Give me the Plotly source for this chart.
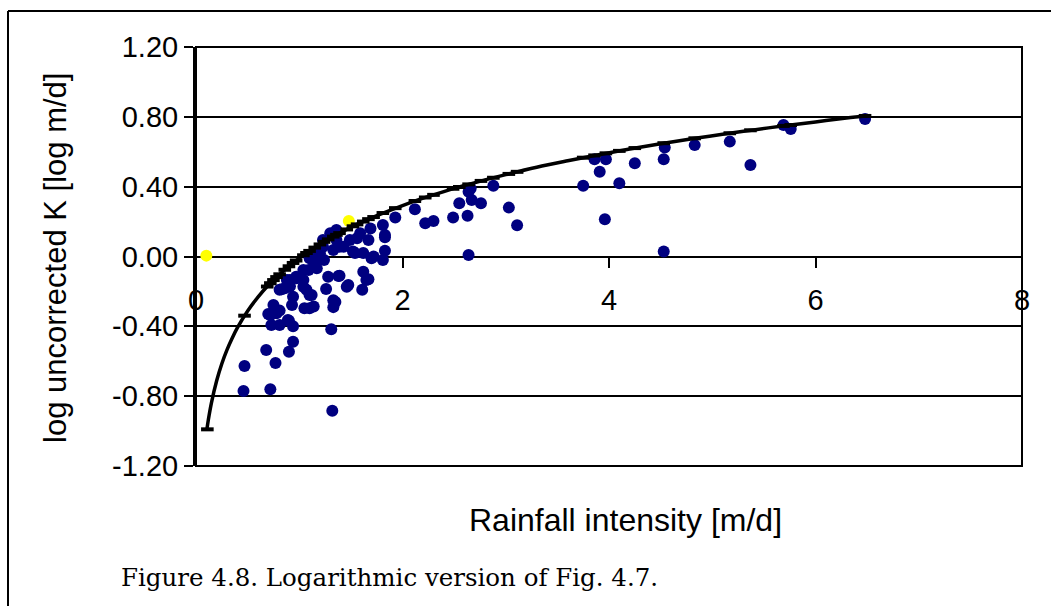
import plotly.graph_objects as go

# ---- data ----
obs_x = [3.86, 3.97, 3.91, 3.75, 4.10, 3.96, 4.25, 4.53, 4.54, 4.53, 4.83, 5.17, 5.37, 5.69, 5.76, 6.48,
         2.12, 2.22, 2.30, 2.49, 2.55, 2.63, 2.64, 2.67, 2.66, 2.76, 2.64, 2.88, 3.03, 3.11,
         1.93, 1.81, 1.83, 1.83, 1.81, 1.69, 1.67, 1.70, 1.62, 1.54, 1.62, 1.67, 1.61, 1.46, 1.39,
         1.35, 1.33, 1.31, 1.32, 1.26, 1.28, 1.10, 1.05, 0.93, 0.89, 0.94, 0.94, 0.90, 0.75, 0.72,
         0.78, 0.73, 0.81, 0.68, 0.77, 0.72, 0.47, 0.46, 0.81, 0.91, 0.975, 1.04, 1.07, 1.12, 1.09,
         1.15, 1.24, 1.39, 1.52, 1.56, 1.17, 1.23, 1.30, 1.36, 1.49, 1.59, 0.88, 1.04,
         1.83, 1.72, 1.65, 1.475, 1.38, 1.33, 1.17, 0.97, 0.86, 0.94, 1.10, 1.14, 1.20, 1.33, 1.43,
         1.36, 1.23, 1.10, 1.04, 0.91, 0.81, 0.83, 0.70, 0.90]
obs_y = [0.557, 0.557, 0.486, 0.405, 0.419, 0.213, 0.534, 0.557, 0.625, 0.028, 0.638, 0.658, 0.524, 0.753, 0.73, 0.787,
         0.27, 0.19, 0.203, 0.224, 0.305, 0.234, 0.371, 0.324, 0.39, 0.305, 0.009, 0.405, 0.28, 0.179,
         0.224, 0.18, 0.123, 0.033, -0.02, 0.16, 0.094, -0.01, 0.02, 0.02, -0.087, -0.13, -0.19, -0.173, -0.11,
         -0.26, -0.29, -0.417, -0.883, -0.186, -0.116, -0.297, -0.297, -0.278, -0.364, -0.40, -0.488, -0.545, -0.278, -0.335,
         -0.325, -0.392, -0.392, -0.535, -0.61, -0.76, -0.627, -0.77, -0.19, -0.17, -0.125, -0.135, -0.19, -0.22, -0.077,
         -0.04, -0.02, 0.056, 0.028, 0.104, 0.018, 0.094, 0.133, 0.152, 0.094, 0.133, -0.135, -0.173,
         0.11, 0.0, -0.135, -0.163, -0.112, -0.25, -0.068, -0.116, -0.182, -0.23, -0.22, -0.287, 0.018, 0.037, 0.056,
         0.094, 0.056, -0.01, -0.077, -0.135, -0.31, -0.188, -0.33, -0.368]

other_x = [0.10, 1.48]
other_y = [0.005, 0.203]

# smooth fitted line
curve_x = [0.105, 0.12, 0.15, 0.2, 0.25, 0.3, 0.35, 0.4, 0.5, 0.6, 0.7, 0.8, 0.9, 1.0, 1.1, 1.2,
           1.3, 1.4, 1.5, 1.6, 1.7, 1.8, 2.0, 2.2, 2.4, 2.6, 2.8, 3.0, 3.3, 3.6, 3.9, 4.2,
           4.5, 4.8, 5.1, 5.4, 5.7, 6.0, 6.3, 6.5]
curve_y = [-0.993, -0.934, -0.837, -0.712, -0.614, -0.535, -0.468, -0.409, -0.312, -0.233, -0.165,
           -0.107, -0.056, -0.010, 0.032, 0.069, 0.104, 0.137, 0.167, 0.195, 0.221, 0.246, 0.292,
           0.334, 0.372, 0.407, 0.439, 0.469, 0.511, 0.548, 0.583, 0.616, 0.646, 0.674, 0.700,
           0.725, 0.749, 0.771, 0.793, 0.806]

# dash markers drawn on the fitted line
fit_mark_x = [0.11, 0.47, 0.69, 0.72, 0.75, 0.78, 0.81, 0.86, 0.90, 0.94, 0.97, 1.04, 1.07, 1.10,
              1.15, 1.20, 1.24, 1.28, 1.33, 1.36, 1.39, 1.46, 1.52, 1.56, 1.62, 1.67, 1.72, 1.81,
              1.93, 2.12, 2.22, 2.30, 2.49, 2.55, 2.64, 2.76, 2.88, 3.03, 3.11, 3.75, 3.86, 3.97,
              4.10, 4.25, 4.53, 4.83, 5.17, 5.37, 5.69, 5.76, 6.48]
fit_mark_y = [-0.99, -0.339, -0.172, -0.153, -0.135, -0.118, -0.102, -0.076, -0.056, -0.037, -0.023,
              0.007, 0.020, 0.032, 0.051, 0.069, 0.084, 0.098, 0.114, 0.124, 0.134, 0.155, 0.173,
              0.184, 0.200, 0.214, 0.226, 0.249, 0.277, 0.318, 0.338, 0.353, 0.388, 0.398, 0.413,
              0.433, 0.451, 0.473, 0.485, 0.566, 0.579, 0.591, 0.605, 0.621, 0.649, 0.677, 0.706,
              0.723, 0.748, 0.753, 0.805]

y_ticks = [-1.2, -0.8, -0.4, 0.0, 0.4, 0.8, 1.2]
y_tick_labels = ["-1.20", "-0.80", "-0.40", "0.00", "0.40", "0.80", "1.20"]
x_ticks = [0, 2, 4, 6, 8]
x_tick_labels = ["0", "2", "4", "6", "8"]

# ---- layout geometry (pixels) ----
W, H = 1051, 606
L, R, T, B = 196, 1022, 47, 466
pw, ph = R - L, B - T


def px(x):
    return (x - L) / pw


def py(y):
    return (B - y) / ph


fig = go.Figure()
fig.add_trace(go.Scatter(x=obs_x, y=obs_y, mode="markers",
                         marker=dict(color="#000080", size=12, line=dict(width=0)),
                         showlegend=False))
fig.add_trace(go.Scatter(x=other_x, y=other_y, mode="markers",
                         marker=dict(color="#FFFF00", size=12, line=dict(width=0)),
                         showlegend=False))
fig.add_trace(go.Scatter(x=curve_x, y=curve_y, mode="lines", line_shape="spline",
                         line=dict(color="black", width=3.5), showlegend=False))
fig.add_trace(go.Scatter(x=fit_mark_x, y=fit_mark_y, mode="markers",
                         marker=dict(symbol="line-ew", size=9, line=dict(color="black", width=4)),
                         showlegend=False))

axis_font = dict(family="Liberation Sans, Arial, sans-serif", size=29, color="black")

fig.update_layout(
    width=W, height=H,
    margin=dict(l=L, r=W - R, t=T, b=H - B),
    paper_bgcolor="white", plot_bgcolor="white",
    xaxis=dict(range=[0, 8], tickvals=x_ticks, ticktext=x_tick_labels,
               showgrid=False, zeroline=False, showline=False,
               ticks="outside", ticklen=10, tickwidth=2, tickcolor="black",
               ticklabelstandoff=8,
               anchor="free", position=0.5, tickfont=axis_font),
    yaxis=dict(range=[-1.2, 1.2], tickvals=y_ticks, ticktext=y_tick_labels,
               showgrid=True, gridcolor="black", gridwidth=2, zeroline=False,
               showline=True, linecolor="black", linewidth=3,
               ticks="outside", ticklen=9, tickwidth=2, tickcolor="black",
               tickfont=axis_font),
    shapes=[
        dict(type="rect", xref="paper", yref="paper", x0=0, x1=1, y0=0, y1=1,
             line=dict(color="black", width=2), layer="above"),
        dict(type="line", xref="paper", yref="paper", x0=px(8), x1=px(W + 5), y0=py(11), y1=py(11),
             line=dict(color="black", width=2)),
        dict(type="line", xref="paper", yref="paper", x0=px(8), x1=px(8), y0=py(11), y1=py(H + 5),
             line=dict(color="black", width=2)),
    ],
    annotations=[
        dict(text="log uncorrected K [log m/d]", xref="paper", yref="paper",
             x=px(55), y=py(258), xanchor="center", yanchor="middle",
             textangle=-90, showarrow=False,
             font=dict(family="Liberation Sans, Arial, sans-serif", size=31, color="black")),
        dict(text="Rainfall intensity [m/d]", xref="paper", yref="paper",
             x=px(625), y=py(520), xanchor="center", yanchor="middle", showarrow=False,
             font=dict(family="Liberation Sans, Arial, sans-serif", size=32, color="black")),
        dict(text="Figure 4.8. Logarithmic version of Fig. 4.7.", xref="paper", yref="paper",
             x=px(119), y=py(577), xanchor="left", yanchor="middle", showarrow=False,
             font=dict(family="DejaVu Serif, serif", size=24.5, color="black")),
    ],
)

fig.write_html("out.html")
